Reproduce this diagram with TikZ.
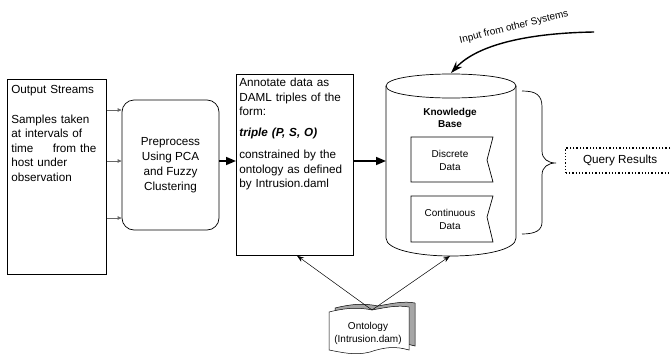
\documentclass[tikz,border=0pt]{standalone}
\usepackage{fontspec}
\setmainfont{Liberation Sans}
\usetikzlibrary{arrows.meta}
\begin{document}
\begin{tikzpicture}[x=1pt, y=-1pt, line width=0.7pt,
  box/.style={draw, rectangle, inner sep=0pt, anchor=north west},
  txt/.style={font=\fontsize{11.7}{14.5}\selectfont, align=left, inner sep=0pt, anchor=north west},
  small/.style={font=\fontsize{10}{13}\selectfont, align=center, inner sep=0pt},
  feed/.style={-{Triangle[length=4pt, width=3.5pt]}, draw=black!60},
  flow/.style={-{Triangle[length=10pt, width=8pt]}, line width=1.6pt},
  link/.style={-{Stealth[length=7pt, width=5pt]}, line width=0.5pt}]
  \useasboundingbox (0,0) rectangle (671,356);
  % output streams
  \node[box, minimum width=99, minimum height=195] (streams) at (7,79) {};
  \node[txt, text width=85] (streamstxt) at (11,85) {Output Streams\\[15pt]Samples taken\\at intervals of\\time\hfill from the\\host under\\observation};
  % preprocessing
  \node[draw, rounded corners=12pt, minimum width=97, minimum height=130, align=center,
        font=\fontsize{11.7}{15}\selectfont] (prep) at (170.5,165) {Preprocess\\Using PCA\\and Fuzzy\\Clustering};
  \draw[feed] (streams.east |- 0,110) -- (prep.west |- 0,110);
  \draw[feed] (streams.east |- 0,161) -- (prep.west |- 0,161);
  \draw[feed] (streams.east |- 0,218) -- (prep.west |- 0,218);
  % annotation
  \node[box, minimum width=117, minimum height=181] (annot) at (236,74) {};
  \node[txt, text width=112] (annottxt) at (239,78) {Annotate data as\\DAML triples of the\\form:\\[6pt]\textbf{\textit{triple (P, S, O)}}\\[8pt]constrained by the\\ontology as defined\\by Intrusion.daml};
  \draw[flow] (prep.east |- 0,161) -- (annot.west |- 0,161);
  % knowledge base
  \draw (386,86) .. controls (386,70) and (516,70) .. (516,86)
        .. controls (516,102) and (386,102) .. (386,86);
  \draw (386,86) -- (386,238) .. controls (386,262) and (516,262) .. (516,238) -- (516,86);
  \coordinate (kbwest) at (386,161);
  \coordinate (kbtop) at (451,73);
  \coordinate (kbbot) at (450,256);
  \node[font=\bfseries\fontsize{10}{12}\selectfont, align=center, inner sep=0pt] (kbname) at (450,118) {Knowledge\\Base};
  \draw (411,137) -- (493,137) -- (487,160) -- (493,182) -- (411,182) -- cycle;
  \node[small] (discrete) at (450,160.5) {Discrete\\Data};
  \draw (411,196) -- (493,196) -- (487,217) -- (493,242) -- (411,242) -- cycle;
  \node[small] (continuous) at (450,219) {Continuous\\Data};
  \draw[flow] (annot.east |- 0,161) -- (kbwest);
  % query results
  \draw (522,91) .. controls (536,91) and (542,95) .. (542,107) -- (542,151)
        .. controls (542,159) and (548,163) .. (556,163)
        .. controls (548,163) and (542,167) .. (542,175) -- (542,222)
        .. controls (542,230) and (536,234) .. (522,234);
  \node[draw, dotted, line width=1.3pt, minimum width=109, minimum height=25, anchor=west,
        font=\fontsize{11.7}{14}\selectfont] (query) at (565,160.5) {Query Results};
  % external input
  \coordinate (ext) at (594,32);
  \draw[line width=1.4pt, -{Stealth[length=12pt, width=8pt]}] (ext) .. controls (530,33) and (478,44) .. (kbtop);
  \node[font=\fontsize{10}{12}\selectfont, rotate=14, inner sep=0pt] (inputlbl) at (514,27) {Input from other Systems};
  % ontology
  \begin{scope}[shift={(6,-4)}]
    \filldraw[fill=black!35, line width=0.5pt] (329,312) .. controls (345,308) and (358,307) .. (372,310)
      .. controls (388,307) and (398,305) .. (409,307) -- (409,350)
      .. controls (395,346) and (385,347) .. (370,352) .. controls (355,356) and (340,352) .. (329,350) -- cycle;
  \end{scope}
  \filldraw[fill=white, line width=0.5pt] (329,312) .. controls (345,308) and (358,307) .. (372,310)
    .. controls (388,307) and (398,305) .. (409,307) -- (409,350)
    .. controls (395,346) and (385,347) .. (370,352) .. controls (355,356) and (340,352) .. (329,350) -- cycle;
  \coordinate (ontop) at (372,310);
  \node[small] (onto) at (368,333) {Ontology\\(Intrusion.dam)};
  \draw[link] (ontop) -- (annot.south -| 297,0);
  \draw[link] (ontop) -- (kbbot);
\end{tikzpicture}
\end{document}
